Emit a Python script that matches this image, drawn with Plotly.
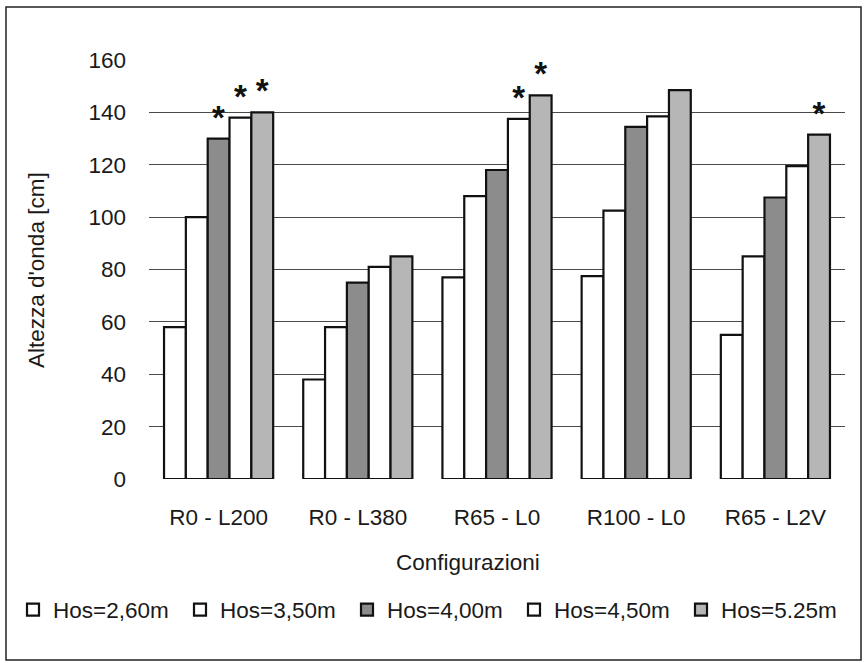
import plotly.graph_objects as go

categories = ["R0 - L200", "R0 - L380", "R65 - L0", "R100 - L0", "R65 - L2V"]
series_names = ["Hos=2,60m", "Hos=3,50m", "Hos=4,00m", "Hos=4,50m", "Hos=5.25m"]
hos_260 = [58, 38, 77, 77.5, 55]
hos_350 = [100, 58, 108, 102.5, 85]
hos_400 = [130, 75, 118, 134.5, 107.5]
hos_450 = [138, 81, 137.5, 138.5, 119.5]
hos_525 = [140, 85, 146.5, 148.5, 131.5]
star_260 = ["", "", "", "", ""]
star_350 = ["", "", "", "", ""]
star_400 = ["*", "", "", "", ""]
star_450 = ["*", "", "*", "", ""]
star_525 = ["*", "", "*", "", "*"]
y_ticks = [0, 20, 40, 60, 80, 100, 120, 140, 160]

values = [hos_260, hos_350, hos_400, hos_450, hos_525]
stars = [star_260, star_350, star_400, star_450, star_525]
colors = ["#ffffff", "#ffffff", "#8c8c8c", "#ffffff", "#b6b6b6"]

FONT = "Liberation Sans, Arial, sans-serif"
FS = 22.5

fig = go.Figure()
for name, vals, st, col in zip(series_names, values, stars, colors):
    fig.add_trace(go.Bar(
        x=categories, y=vals, name=name,
        marker=dict(color=col, line=dict(color="#111111", width=2.2)),
        text=st, textposition="outside", cliponaxis=False,
        textfont=dict(size=33, color="#111111", family=FONT, weight="bold"),
    ))

# plot area geometry (px)
L, R, T, B = 149, 19, 60, 184
W, H = 864, 663
pw, ph = W - L - R, H - T - B

def px2x(px):
    return (px - L) / pw

def py2y(py):
    return (H - B - py) / ph

fig.update_layout(
    width=W, height=H,
    margin=dict(l=L, r=R, t=T, b=B, autoexpand=False),
    paper_bgcolor="white", plot_bgcolor="white",
    barmode="group", bargap=0.216, bargroupgap=0,
    font=dict(family=FONT, size=FS, color="#1a1a1a"),
    showlegend=True,
    legend=dict(orientation="h", x=px2x(13), xanchor="left",
                y=py2y(610), yanchor="middle",
                font=dict(size=FS, family=FONT), itemwidth=30,
                entrywidth=122, entrywidthmode="pixels",
                tracegroupgap=0,
                traceorder="normal", bgcolor="rgba(0,0,0,0)"),
    xaxis=dict(showline=False, ticks="", showgrid=False,
               tickfont=dict(size=FS), ticklabelstandoff=22),
    yaxis=dict(range=[0, 160], tickvals=y_ticks, showgrid=True,
               gridcolor="#4a4a4a", gridwidth=1, zeroline=False,
               showline=False, ticks="", tickfont=dict(size=FS),
               ticklabelstandoff=22),
)

fig.add_annotation(text="Altezza d'onda [cm]", textangle=-90,
                   xref="paper", yref="paper", x=px2x(36), y=py2y(270),
                   xanchor="center", yanchor="middle",
                   showarrow=False, font=dict(size=FS, family=FONT))
fig.add_annotation(text="Configurazioni",
                   xref="paper", yref="paper", x=px2x(468), y=py2y(562),
                   xanchor="center", yanchor="middle",
                   showarrow=False, font=dict(size=FS, family=FONT))

fig.add_shape(type="rect", xref="paper", yref="paper",
              x0=px2x(6), x1=px2x(861), y0=py2y(660), y1=py2y(7),
              line=dict(color="#222222", width=1.5), fillcolor="rgba(0,0,0,0)",
              layer="below")

fig.write_html("out.html", config={"displayModeBar": False},
               post_script="document.body.style.margin='0';document.body.style.padding='0';")
